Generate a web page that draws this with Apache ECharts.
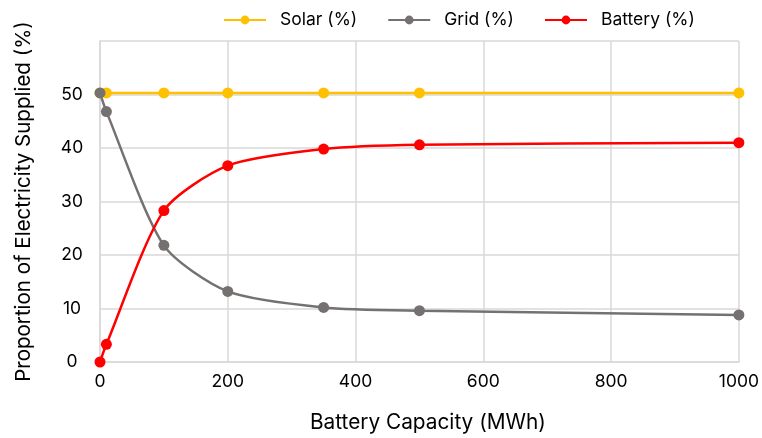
<!DOCTYPE html>
<html>
<head>
<meta charset="utf-8">
<script src="https://cdn.jsdelivr.net/npm/echarts@6/dist/echarts.min.js"></script>
<style>html,body{margin:0;padding:0;background:#fff}#c{width:762px;height:438px}</style>
</head>
<body>
<div id="c"></div>
<script>
var capacity = [0, 10, 100, 200, 350, 500, 1000];
var solar = [50.3, 50.3, 50.3, 50.3, 50.3, 50.3, 50.3];
var grid = [50.3, 46.8, 21.8, 13.2, 10.2, 9.6, 8.8];
var battery = [0, 3.3, 28.3, 36.7, 39.8, 40.6, 41.0];
var seriesNames = ['Solar (%)', 'Grid (%)', 'Battery (%)'];
var xTitle = 'Battery Capacity (MWh)';
var yTitle = 'Proportion of Electricity Supplied (%)';

function pairs(v){ return capacity.map(function(x,i){ return [x, v[i]]; }); }
var FONT = 'Inter';
var chart = echarts.init(document.getElementById('c'), null, {renderer:'canvas'});
function mk(name, data, color){
  return {
    name: name, type: 'line', data: pairs(data), smooth: 0.25,
    symbol: 'circle', symbolSize: 11, showSymbol: true,
    lineStyle: {color: color, width: 2.5},
    itemStyle: {color: color},
    emphasis: {disabled: true}
  };
}
chart.setOption({
  animation: false,
  textStyle: {fontFamily: FONT, color: '#000'},
  legend: {
    top: 6, left: 218, itemWidth: 42, itemHeight: 11, itemGap: 30,
    textStyle: {fontFamily: FONT, fontSize: 17.5, color: '#000', padding: [0, 0, 0, 9]},
    data: seriesNames
  },
  grid: {left: 100, right: 18, top: 41, bottom: 75, containLabel: false},
  xAxis: {
    type: 'value', min: 0, max: 1000, interval: 200,
    name: xTitle, nameLocation: 'middle', nameGap: 50,
    nameTextStyle: {fontFamily: FONT, fontSize: 20.8, color: '#000', padding: [0, 0, 0, 17]},
    axisLine: {show: true, lineStyle: {color: '#d9d9d9', width: 1.5}},
    axisTick: {show: false},
    axisLabel: {margin: 11, fontSize: 17.5, color: '#000', fontFamily: FONT,
      formatter: function(v){ return String(v); }},
    splitLine: {show: true, lineStyle: {color: '#d9d9d9', width: 1.5}}
  },
  yAxis: {
    type: 'value', min: 0, max: 60, interval: 10,
    name: yTitle, nameLocation: 'middle', nameGap: 66,
    nameTextStyle: {fontFamily: FONT, fontSize: 20.5, color: '#000'},
    axisLine: {show: true, lineStyle: {color: '#d9d9d9', width: 1.5}},
    axisTick: {show: false},
    axisLabel: {margin: 28, align: 'center', fontSize: 17.5, color: '#000', fontFamily: FONT, showMaxLabel: false,
      formatter: function(v){ return v >= 60 ? '' : String(v); }},
    splitLine: {show: true, lineStyle: {color: '#d9d9d9', width: 1.5}}
  },
  series: [
    mk(seriesNames[0], solar, '#FFC000'),
    mk(seriesNames[1], grid, '#757171'),
    mk(seriesNames[2], battery, '#FF0000')
  ]
});
</script>
</body>
</html>
